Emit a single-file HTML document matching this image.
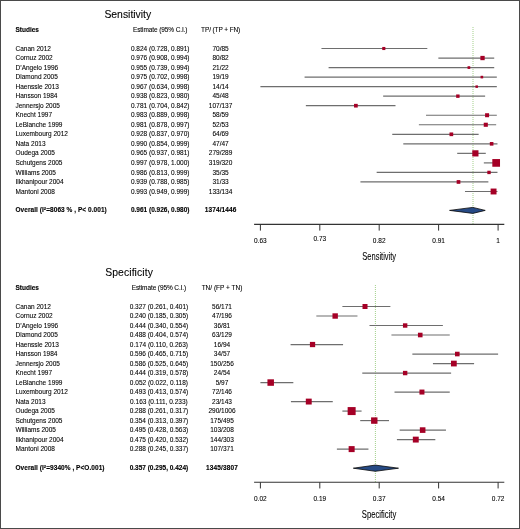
<!DOCTYPE html>
<html><head><meta charset="utf-8"><style>
html,body{margin:0;padding:0;background:#fff;}
body{width:520px;height:529px;overflow:hidden;}
svg{display:block;will-change:transform;}
.t{font-family:"Liberation Sans",sans-serif;fill:#000;stroke:#000;stroke-width:0.08px;}
.b{font-family:"Liberation Sans",sans-serif;font-weight:bold;fill:#000;stroke:#000;stroke-width:0.12px;}
</style></head><body>
<svg width="520" height="529" viewBox="0 0 520 529">
<rect x="0" y="0" width="520" height="529" fill="#fff"/>
<text x="104.4" y="18.0" font-size="10.4" class="t" letter-spacing="0">Sensitivity</text>
<text x="15.5" y="32.3" class="b" font-size="6.5">Studies</text>
<text x="160.2" y="31.9" text-anchor="middle" font-size="6.5" class="t" letter-spacing="-0.1">Estimate (95% C.I.)</text>
<text x="220.6" y="31.9" text-anchor="middle" font-size="6.5" class="t" letter-spacing="-0.11">TP/ (TP + FN)</text>
<line x1="473.0" y1="27" x2="473.0" y2="224.4" stroke="#a3d08a" stroke-width="1" stroke-dasharray="1 1"/>
<text x="15.5" y="50.60" font-size="6.5" class="t">Canan 2012</text>
<text x="160.2" y="50.60" text-anchor="middle" font-size="6.5" class="t">0.824 (0.728, 0.891)</text>
<text x="220.6" y="50.60" text-anchor="middle" font-size="6.5" class="t">70/85</text>
<line x1="321.45" y1="48.50" x2="427.32" y2="48.50" stroke="#6e6e6e" stroke-width="1.2"/>
<rect x="382.25" y="46.95" width="3.1" height="3.1" fill="#a50026"/>
<text x="15.5" y="60.13" font-size="6.5" class="t">Cornuz 2002</text>
<text x="160.2" y="60.13" text-anchor="middle" font-size="6.5" class="t">0.976 (0.908, 0.994)</text>
<text x="220.6" y="60.13" text-anchor="middle" font-size="6.5" class="t">80/82</text>
<line x1="438.36" y1="58.03" x2="494.22" y2="58.03" stroke="#6e6e6e" stroke-width="1.2"/>
<rect x="480.38" y="55.88" width="4.3" height="4.3" fill="#a50026"/>
<text x="15.5" y="69.67" font-size="6.5" class="t">D’Angelo 1996</text>
<text x="160.2" y="69.67" text-anchor="middle" font-size="6.5" class="t">0.955 (0.739, 0.994)</text>
<text x="220.6" y="69.67" text-anchor="middle" font-size="6.5" class="t">21/22</text>
<line x1="328.60" y1="67.57" x2="494.22" y2="67.57" stroke="#6e6e6e" stroke-width="1.2"/>
<rect x="467.54" y="66.22" width="2.7" height="2.7" fill="#a50026"/>
<text x="15.5" y="79.20" font-size="6.5" class="t">Diamond 2005</text>
<text x="160.2" y="79.20" text-anchor="middle" font-size="6.5" class="t">0.975 (0.702, 0.998)</text>
<text x="220.6" y="79.20" text-anchor="middle" font-size="6.5" class="t">19/19</text>
<line x1="304.57" y1="77.10" x2="496.82" y2="77.10" stroke="#6e6e6e" stroke-width="1.2"/>
<rect x="480.58" y="75.80" width="2.6" height="2.6" fill="#a50026"/>
<text x="15.5" y="88.73" font-size="6.5" class="t">Haenssle 2013</text>
<text x="160.2" y="88.73" text-anchor="middle" font-size="6.5" class="t">0.967 (0.634, 0.998)</text>
<text x="220.6" y="88.73" text-anchor="middle" font-size="6.5" class="t">14/14</text>
<line x1="260.40" y1="86.63" x2="496.82" y2="86.63" stroke="#6e6e6e" stroke-width="1.2"/>
<rect x="475.43" y="85.38" width="2.5" height="2.5" fill="#a50026"/>
<text x="15.5" y="98.26" font-size="6.5" class="t">Hansson 1984</text>
<text x="160.2" y="98.26" text-anchor="middle" font-size="6.5" class="t">0.938 (0.823, 0.980)</text>
<text x="220.6" y="98.26" text-anchor="middle" font-size="6.5" class="t">45/48</text>
<line x1="383.16" y1="96.16" x2="485.13" y2="96.16" stroke="#6e6e6e" stroke-width="1.2"/>
<rect x="456.15" y="94.46" width="3.4" height="3.4" fill="#a50026"/>
<text x="15.5" y="107.80" font-size="6.5" class="t">Jennersjo 2005</text>
<text x="160.2" y="107.80" text-anchor="middle" font-size="6.5" class="t">0.781 (0.704, 0.842)</text>
<text x="220.6" y="107.80" text-anchor="middle" font-size="6.5" class="t">107/137</text>
<line x1="305.86" y1="105.70" x2="395.50" y2="105.70" stroke="#6e6e6e" stroke-width="1.2"/>
<rect x="354.03" y="103.85" width="3.7" height="3.7" fill="#a50026"/>
<text x="15.5" y="117.33" font-size="6.5" class="t">Knecht 1997</text>
<text x="160.2" y="117.33" text-anchor="middle" font-size="6.5" class="t">0.983 (0.889, 0.998)</text>
<text x="220.6" y="117.33" text-anchor="middle" font-size="6.5" class="t">58/59</text>
<line x1="426.02" y1="115.23" x2="496.82" y2="115.23" stroke="#6e6e6e" stroke-width="1.2"/>
<rect x="485.08" y="113.23" width="4.0" height="4.0" fill="#a50026"/>
<text x="15.5" y="126.86" font-size="6.5" class="t">LeBlanche 1999</text>
<text x="160.2" y="126.86" text-anchor="middle" font-size="6.5" class="t">0.981 (0.878, 0.997)</text>
<text x="220.6" y="126.86" text-anchor="middle" font-size="6.5" class="t">52/53</text>
<line x1="418.88" y1="124.76" x2="496.17" y2="124.76" stroke="#6e6e6e" stroke-width="1.2"/>
<rect x="483.73" y="122.71" width="4.1" height="4.1" fill="#a50026"/>
<text x="15.5" y="136.40" font-size="6.5" class="t">Luxembourg 2012</text>
<text x="160.2" y="136.40" text-anchor="middle" font-size="6.5" class="t">0.928 (0.837, 0.970)</text>
<text x="220.6" y="136.40" text-anchor="middle" font-size="6.5" class="t">64/69</text>
<line x1="392.25" y1="134.30" x2="478.63" y2="134.30" stroke="#6e6e6e" stroke-width="1.2"/>
<rect x="449.50" y="132.45" width="3.7" height="3.7" fill="#a50026"/>
<text x="15.5" y="145.93" font-size="6.5" class="t">Nata 2013</text>
<text x="160.2" y="145.93" text-anchor="middle" font-size="6.5" class="t">0.990 (0.854, 0.999)</text>
<text x="220.6" y="145.93" text-anchor="middle" font-size="6.5" class="t">47/47</text>
<line x1="403.29" y1="143.83" x2="497.47" y2="143.83" stroke="#6e6e6e" stroke-width="1.2"/>
<rect x="489.82" y="142.03" width="3.6" height="3.6" fill="#a50026"/>
<text x="15.5" y="155.46" font-size="6.5" class="t">Oudega 2005</text>
<text x="160.2" y="155.46" text-anchor="middle" font-size="6.5" class="t">0.965 (0.937, 0.981)</text>
<text x="220.6" y="155.46" text-anchor="middle" font-size="6.5" class="t">279/289</text>
<line x1="457.20" y1="153.36" x2="485.78" y2="153.36" stroke="#6e6e6e" stroke-width="1.2"/>
<rect x="472.28" y="150.26" width="6.2" height="6.2" fill="#a50026"/>
<text x="15.5" y="165.00" font-size="6.5" class="t">Schutgens 2005</text>
<text x="160.2" y="165.00" text-anchor="middle" font-size="6.5" class="t">0.997 (0.978, 1.000)</text>
<text x="220.6" y="165.00" text-anchor="middle" font-size="6.5" class="t">319/320</text>
<line x1="483.83" y1="162.90" x2="498.12" y2="162.90" stroke="#6e6e6e" stroke-width="1.2"/>
<rect x="492.32" y="159.05" width="7.7" height="7.7" fill="#a50026"/>
<text x="15.5" y="174.53" font-size="6.5" class="t">Williams 2005</text>
<text x="160.2" y="174.53" text-anchor="middle" font-size="6.5" class="t">0.986 (0.813, 0.999)</text>
<text x="220.6" y="174.53" text-anchor="middle" font-size="6.5" class="t">35/35</text>
<line x1="376.66" y1="172.43" x2="497.47" y2="172.43" stroke="#6e6e6e" stroke-width="1.2"/>
<rect x="487.32" y="170.73" width="3.4" height="3.4" fill="#a50026"/>
<text x="15.5" y="184.06" font-size="6.5" class="t">Ilkhanipour 2004</text>
<text x="160.2" y="184.06" text-anchor="middle" font-size="6.5" class="t">0.939 (0.788, 0.985)</text>
<text x="220.6" y="184.06" text-anchor="middle" font-size="6.5" class="t">31/33</text>
<line x1="360.42" y1="181.96" x2="488.37" y2="181.96" stroke="#6e6e6e" stroke-width="1.2"/>
<rect x="456.65" y="180.11" width="3.7" height="3.7" fill="#a50026"/>
<text x="15.5" y="193.59" font-size="6.5" class="t">Mantoni 2008</text>
<text x="160.2" y="193.59" text-anchor="middle" font-size="6.5" class="t">0.993 (0.949, 0.999)</text>
<text x="220.6" y="193.59" text-anchor="middle" font-size="6.5" class="t">133/134</text>
<line x1="464.99" y1="191.50" x2="497.47" y2="191.50" stroke="#6e6e6e" stroke-width="1.2"/>
<rect x="490.62" y="188.55" width="5.9" height="5.9" fill="#a50026"/>
<text x="15.5" y="212.4" font-size="6.5" class="b" letter-spacing="0.05">Overall (I<tspan font-size="4.2" dy="-2.6">2</tspan><tspan dy="2.6">=8063 % , P&lt; 0.001)</tspan></text>
<text x="160.2" y="212.4" text-anchor="middle" font-size="6.5" class="b">0.961 (0.926, 0.980)</text>
<text x="220.6" y="212.4" text-anchor="middle" font-size="6.5" class="b" letter-spacing="0.12">1374/1446</text>
<polygon points="449.55,210.4 472.79,207.40 485.23,210.4 472.79,213.40" fill="#264a85" stroke="#0a0a0a" stroke-width="0.8"/>
<line x1="254.1" y1="224.4" x2="504.3" y2="224.4" stroke="#333" stroke-width="1.1"/>
<line x1="260.4" y1="224.4" x2="260.4" y2="230.60" stroke="#333" stroke-width="1"/>
<text x="260.4" y="243.0" text-anchor="middle" font-size="6.5" class="t">0.63</text>
<line x1="319.8" y1="224.4" x2="319.8" y2="230.60" stroke="#333" stroke-width="1"/>
<text x="319.8" y="241.4" text-anchor="middle" font-size="6.5" class="t">0.73</text>
<line x1="379.2" y1="224.4" x2="379.2" y2="230.60" stroke="#333" stroke-width="1"/>
<text x="379.2" y="243.0" text-anchor="middle" font-size="6.5" class="t">0.82</text>
<line x1="438.6" y1="224.4" x2="438.6" y2="230.60" stroke="#333" stroke-width="1"/>
<text x="438.6" y="243.0" text-anchor="middle" font-size="6.5" class="t">0.91</text>
<line x1="498.1" y1="224.4" x2="498.1" y2="230.60" stroke="#333" stroke-width="1"/>
<text x="498.1" y="243.0" text-anchor="middle" font-size="6.5" class="t">1</text>
<text x="0" y="0" font-size="10.3" class="t" stroke="#000" stroke-width="0.45" transform="translate(362.3,259.6) scale(0.73,1)">Sensitivity</text>
<text x="105.2" y="275.7" font-size="10.4" class="t" letter-spacing="0.09">Specificity</text>
<text x="15.5" y="290.0" class="b" font-size="6.5">Studies</text>
<text x="158.9" y="289.6" text-anchor="middle" font-size="6.5" class="t" letter-spacing="-0.1">Estimate (95% C.I.)</text>
<text x="222.0" y="289.6" text-anchor="middle" font-size="6.5" class="t" letter-spacing="0">TN/ (FP + TN)</text>
<line x1="375.4" y1="285" x2="375.4" y2="482.25" stroke="#a3d08a" stroke-width="1" stroke-dasharray="1 1"/>
<text x="15.5" y="308.50" font-size="6.5" class="t">Canan 2012</text>
<text x="158.9" y="308.50" text-anchor="middle" font-size="6.5" class="t">0.327 (0.261, 0.401)</text>
<text x="222.0" y="308.50" text-anchor="middle" font-size="6.5" class="t">56/171</text>
<line x1="342.38" y1="306.50" x2="390.40" y2="306.50" stroke="#6e6e6e" stroke-width="1.2"/>
<rect x="362.51" y="304.00" width="5.0" height="5.0" fill="#a50026"/>
<text x="15.5" y="318.01" font-size="6.5" class="t">Cornuz 2002</text>
<text x="158.9" y="318.01" text-anchor="middle" font-size="6.5" class="t">0.240 (0.185, 0.305)</text>
<text x="222.0" y="318.01" text-anchor="middle" font-size="6.5" class="t">47/196</text>
<line x1="316.31" y1="316.01" x2="357.47" y2="316.01" stroke="#6e6e6e" stroke-width="1.2"/>
<rect x="332.47" y="313.31" width="5.4" height="5.4" fill="#a50026"/>
<text x="15.5" y="327.51" font-size="6.5" class="t">D’Angelo 1996</text>
<text x="158.9" y="327.51" text-anchor="middle" font-size="6.5" class="t">0.444 (0.340, 0.554)</text>
<text x="222.0" y="327.51" text-anchor="middle" font-size="6.5" class="t">36/81</text>
<line x1="369.47" y1="325.51" x2="442.88" y2="325.51" stroke="#6e6e6e" stroke-width="1.2"/>
<rect x="402.95" y="323.31" width="4.4" height="4.4" fill="#a50026"/>
<text x="15.5" y="337.02" font-size="6.5" class="t">Diamond 2005</text>
<text x="158.9" y="337.02" text-anchor="middle" font-size="6.5" class="t">0.488 (0.404, 0.574)</text>
<text x="222.0" y="337.02" text-anchor="middle" font-size="6.5" class="t">63/129</text>
<line x1="391.43" y1="335.02" x2="449.74" y2="335.02" stroke="#6e6e6e" stroke-width="1.2"/>
<rect x="417.94" y="332.72" width="4.6" height="4.6" fill="#a50026"/>
<text x="15.5" y="346.53" font-size="6.5" class="t">Haenssle 2013</text>
<text x="158.9" y="346.53" text-anchor="middle" font-size="6.5" class="t">0.174 (0.110, 0.263)</text>
<text x="222.0" y="346.53" text-anchor="middle" font-size="6.5" class="t">16/94</text>
<line x1="290.58" y1="344.53" x2="343.06" y2="344.53" stroke="#6e6e6e" stroke-width="1.2"/>
<rect x="309.91" y="341.90" width="5.25" height="5.25" fill="#a50026"/>
<text x="15.5" y="356.03" font-size="6.5" class="t">Hansson 1984</text>
<text x="158.9" y="356.03" text-anchor="middle" font-size="6.5" class="t">0.596 (0.465, 0.715)</text>
<text x="222.0" y="356.03" text-anchor="middle" font-size="6.5" class="t">34/57</text>
<line x1="412.35" y1="354.03" x2="498.10" y2="354.03" stroke="#6e6e6e" stroke-width="1.2"/>
<rect x="454.98" y="351.73" width="4.6" height="4.6" fill="#a50026"/>
<text x="15.5" y="365.54" font-size="6.5" class="t">Jennersjo 2005</text>
<text x="158.9" y="365.54" text-anchor="middle" font-size="6.5" class="t">0.586 (0.525, 0.645)</text>
<text x="222.0" y="365.54" text-anchor="middle" font-size="6.5" class="t">150/256</text>
<line x1="432.93" y1="363.54" x2="474.09" y2="363.54" stroke="#6e6e6e" stroke-width="1.2"/>
<rect x="450.98" y="360.67" width="5.75" height="5.75" fill="#a50026"/>
<text x="15.5" y="375.05" font-size="6.5" class="t">Knecht 1997</text>
<text x="158.9" y="375.05" text-anchor="middle" font-size="6.5" class="t">0.444 (0.319, 0.578)</text>
<text x="222.0" y="375.05" text-anchor="middle" font-size="6.5" class="t">24/54</text>
<line x1="362.27" y1="373.05" x2="451.11" y2="373.05" stroke="#6e6e6e" stroke-width="1.2"/>
<rect x="402.95" y="370.85" width="4.4" height="4.4" fill="#a50026"/>
<text x="15.5" y="384.56" font-size="6.5" class="t">LeBlanche 1999</text>
<text x="158.9" y="384.56" text-anchor="middle" font-size="6.5" class="t">0.052 (0.022, 0.118)</text>
<text x="222.0" y="384.56" text-anchor="middle" font-size="6.5" class="t">5/97</text>
<line x1="260.40" y1="382.56" x2="293.33" y2="382.56" stroke="#6e6e6e" stroke-width="1.2"/>
<rect x="267.44" y="379.31" width="6.5" height="6.5" fill="#a50026"/>
<text x="15.5" y="394.06" font-size="6.5" class="t">Luxembourg 2012</text>
<text x="158.9" y="394.06" text-anchor="middle" font-size="6.5" class="t">0.493 (0.413, 0.574)</text>
<text x="222.0" y="394.06" text-anchor="middle" font-size="6.5" class="t">72/146</text>
<line x1="394.51" y1="392.06" x2="449.74" y2="392.06" stroke="#6e6e6e" stroke-width="1.2"/>
<rect x="419.45" y="389.56" width="5.0" height="5.0" fill="#a50026"/>
<text x="15.5" y="403.57" font-size="6.5" class="t">Nata 2013</text>
<text x="158.9" y="403.57" text-anchor="middle" font-size="6.5" class="t">0.163 (0.111, 0.233)</text>
<text x="222.0" y="403.57" text-anchor="middle" font-size="6.5" class="t">23/143</text>
<line x1="290.93" y1="401.57" x2="332.77" y2="401.57" stroke="#6e6e6e" stroke-width="1.2"/>
<rect x="305.81" y="398.62" width="5.9" height="5.9" fill="#a50026"/>
<text x="15.5" y="413.08" font-size="6.5" class="t">Oudega 2005</text>
<text x="158.9" y="413.08" text-anchor="middle" font-size="6.5" class="t">0.288 (0.261, 0.317)</text>
<text x="222.0" y="413.08" text-anchor="middle" font-size="6.5" class="t">290/1006</text>
<line x1="342.38" y1="411.08" x2="361.58" y2="411.08" stroke="#6e6e6e" stroke-width="1.2"/>
<rect x="347.64" y="407.08" width="8.0" height="8.0" fill="#a50026"/>
<text x="15.5" y="422.58" font-size="6.5" class="t">Schutgens 2005</text>
<text x="158.9" y="422.58" text-anchor="middle" font-size="6.5" class="t">0.354 (0.313, 0.397)</text>
<text x="222.0" y="422.58" text-anchor="middle" font-size="6.5" class="t">175/495</text>
<line x1="360.21" y1="420.58" x2="389.02" y2="420.58" stroke="#6e6e6e" stroke-width="1.2"/>
<rect x="371.08" y="417.38" width="6.4" height="6.4" fill="#a50026"/>
<text x="15.5" y="432.09" font-size="6.5" class="t">Williams 2005</text>
<text x="158.9" y="432.09" text-anchor="middle" font-size="6.5" class="t">0.495 (0.428, 0.563)</text>
<text x="222.0" y="432.09" text-anchor="middle" font-size="6.5" class="t">103/208</text>
<line x1="399.66" y1="430.09" x2="445.96" y2="430.09" stroke="#6e6e6e" stroke-width="1.2"/>
<rect x="419.84" y="427.29" width="5.6" height="5.6" fill="#a50026"/>
<text x="15.5" y="441.60" font-size="6.5" class="t">Ilkhanipour 2004</text>
<text x="158.9" y="441.60" text-anchor="middle" font-size="6.5" class="t">0.475 (0.420, 0.532)</text>
<text x="222.0" y="441.60" text-anchor="middle" font-size="6.5" class="t">144/303</text>
<line x1="396.91" y1="439.60" x2="435.33" y2="439.60" stroke="#6e6e6e" stroke-width="1.2"/>
<rect x="412.83" y="436.65" width="5.9" height="5.9" fill="#a50026"/>
<text x="15.5" y="451.11" font-size="6.5" class="t">Mantoni 2008</text>
<text x="158.9" y="451.11" text-anchor="middle" font-size="6.5" class="t">0.288 (0.245, 0.337)</text>
<text x="222.0" y="451.11" text-anchor="middle" font-size="6.5" class="t">107/371</text>
<line x1="336.89" y1="449.11" x2="368.44" y2="449.11" stroke="#6e6e6e" stroke-width="1.2"/>
<rect x="348.64" y="446.11" width="6.0" height="6.0" fill="#a50026"/>
<text x="15.5" y="470.3" font-size="6.5" class="b" letter-spacing="0.05">Overall (I<tspan font-size="4.2" dy="-2.6">2</tspan><tspan dy="2.6">=9340% , P&lt;O.001)</tspan></text>
<text x="158.9" y="470.3" text-anchor="middle" font-size="6.5" class="b">0.357 (0.295, 0.424)</text>
<text x="222.0" y="470.3" text-anchor="middle" font-size="6.5" class="b" letter-spacing="0.12">1345/3807</text>
<polygon points="353.34,468.2 375.30,465.10 398.49,468.2 375.30,471.30" fill="#264a85" stroke="#0a0a0a" stroke-width="0.8"/>
<line x1="254.1" y1="482.25" x2="504.3" y2="482.25" stroke="#333" stroke-width="1.1"/>
<line x1="260.4" y1="482.25" x2="260.4" y2="488.45" stroke="#333" stroke-width="1"/>
<text x="260.4" y="500.9" text-anchor="middle" font-size="6.5" class="t">0.02</text>
<line x1="319.8" y1="482.25" x2="319.8" y2="488.45" stroke="#333" stroke-width="1"/>
<text x="319.8" y="500.9" text-anchor="middle" font-size="6.5" class="t">0.19</text>
<line x1="379.2" y1="482.25" x2="379.2" y2="488.45" stroke="#333" stroke-width="1"/>
<text x="379.2" y="500.9" text-anchor="middle" font-size="6.5" class="t">0.37</text>
<line x1="438.6" y1="482.25" x2="438.6" y2="488.45" stroke="#333" stroke-width="1"/>
<text x="438.6" y="500.9" text-anchor="middle" font-size="6.5" class="t">0.54</text>
<line x1="498.1" y1="482.25" x2="498.1" y2="488.45" stroke="#333" stroke-width="1"/>
<text x="498.1" y="500.9" text-anchor="middle" font-size="6.5" class="t">0.72</text>
<text x="0" y="0" font-size="10.3" class="t" stroke="#000" stroke-width="0.45" transform="translate(361.8,517.5) scale(0.745,1)">Specificity</text>
<rect x="0.5" y="0.5" width="519" height="528" fill="none" stroke="#4a4a4a" stroke-width="1"/>
</svg>
</body></html>
